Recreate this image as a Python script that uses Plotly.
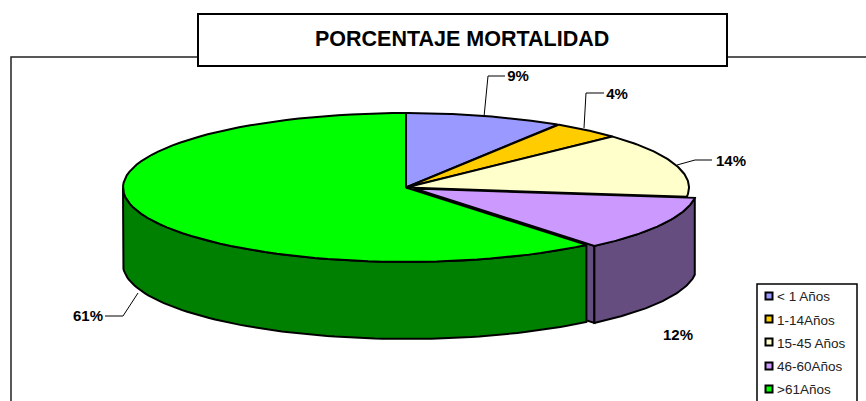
import numpy as np
import plotly.graph_objects as go

# datos
categorias = ['< 1 Años', '1-14Años', '15-45 Años', '46-60Años', '>61Años']
valores = [9, 4, 14, 12, 61]
etiquetas = ['9%', '4%', '14%', '12%', '61%']
colores = ['#9999ff', '#ffcc00', '#ffffcc', '#cc99ff', '#00ff00']
colores_lado = ['#4d4d80', '#806600', '#808066', '#664d80', '#008000']
titulo = 'PORCENTAJE MORTALIDAD'

# geometria del pastel, en pixeles de la pagina
CX, CY = 406, 187.5
RX, RY = 283, 74.5
ALTO = 77
DX, DY = 8, 1  # la porcion 46-60 esta separada
FUENTE = 'Liberation Sans'

fig = go.Figure()


def borde(t0, t1, dx=0, dy=0):
    t = np.radians(np.linspace(t0, t1, 80))
    return CX + dx + RX * np.sin(t), CY + dy - RY * np.cos(t)


def poligono(x, y, color):
    fig.add_trace(go.Scatter(
        x=list(x) + [x[0]], y=list(y) + [y[0]], mode='lines', fill='toself',
        fillcolor=color, line=dict(color='black', width=2),
        hoverinfo='skip', showlegend=False
    ))


def linea(x, y):
    fig.add_trace(go.Scatter(
        x=x, y=y, mode='lines', line=dict(color='black', width=1),
        hoverinfo='skip', showlegend=False
    ))


acum = np.cumsum([0] + valores) / sum(valores) * 360

# porcion separada: cara del corte y pared, el verde las tapa despues
xs, ys = borde(acum[3], acum[4], DX, DY)
poligono([CX + DX, xs[-1], xs[-1], CX + DX],
         [CY + DY, ys[-1], ys[-1] + ALTO, CY + DY + ALTO], colores_lado[3])
poligono(np.r_[xs, xs[::-1]], np.r_[ys, ys[::-1] + ALTO], colores_lado[3])

# porcion verde, solo se ve la pared delantera
xf, yf = borde(acum[4], 270)
poligono(np.r_[xf, xf[::-1]], np.r_[yf, yf[::-1] + ALTO], colores_lado[4])
xb, yb = borde(acum[4], acum[5])
poligono(np.r_[CX, xb], np.r_[CY, yb], colores[4])

for i in [0, 1, 2]:
    xb, yb = borde(acum[i], acum[i + 1])
    poligono(np.r_[CX, xb], np.r_[CY, yb], colores[i])

# tapa de la porcion separada
poligono(np.r_[CX + DX, xs], np.r_[CY + DY, ys], colores[3])

# etiquetas con sus lineas guia
linea([484, 488, 505], [117, 76, 76])
linea([584, 586, 604], [128, 93, 93])
linea([677, 695, 712], [165, 160, 160])
linea([138, 123, 105], [293, 316, 316])
fig.add_trace(go.Scatter(
    x=[518, 617, 731, 678, 88], y=[77, 95, 162, 336, 317],
    text=etiquetas, mode='text', textposition='middle center',
    textfont=dict(family=FUENTE, size=15, color='black'),
    texttemplate='<b>%{text}</b>', hoverinfo='skip', showlegend=False
))

# leyenda
fig.add_trace(go.Scatter(
    x=[769] * 5, y=[296, 319, 342, 366, 389], mode='markers',
    marker=dict(symbol='square', size=7, color=colores, line=dict(color='black', width=2)),
    hoverinfo='skip', showlegend=False
))
fig.add_trace(go.Scatter(
    x=[777] * 5, y=[298, 322, 345, 368, 391], text=categorias,
    mode='text', textposition='middle right',
    textfont=dict(family=FUENTE, size=13.5, color='#222222'),
    hoverinfo='skip', showlegend=False
))

# marco (sigue mas alla del borde derecho), caja del titulo y caja de la leyenda
fig.update_layout(
    width=866, height=401, autosize=False,
    margin=dict(l=0, r=0, t=0, b=0),
    paper_bgcolor='white', plot_bgcolor='white',
    xaxis=dict(range=[0, 866], visible=False, fixedrange=True),
    yaxis=dict(range=[401, 0], visible=False, fixedrange=True),
    shapes=[
        dict(type='rect', x0=11, y0=57, x1=900, y1=420, line=dict(color='#222222', width=1.5), layer='below'),
        dict(type='rect', x0=198, y0=14, x1=727, y1=66, line=dict(color='black', width=2), fillcolor='white', layer='below'),
        dict(type='rect', x0=757, y0=284, x1=857, y1=420, line=dict(color='black', width=1.5), fillcolor='white', layer='below'),
    ],
    annotations=[dict(
        x=462, y=38.5, xref='x', yref='y', text='<b>' + titulo + '</b>', showarrow=False,
        font=dict(family=FUENTE, size=21.5, color='black')
    )]
)

# sin el margen por defecto de la pagina
fig.write_html("out.html", config=dict(displayModeBar=False),
               post_script='document.body.style.margin="0";document.body.style.overflow="hidden";')
